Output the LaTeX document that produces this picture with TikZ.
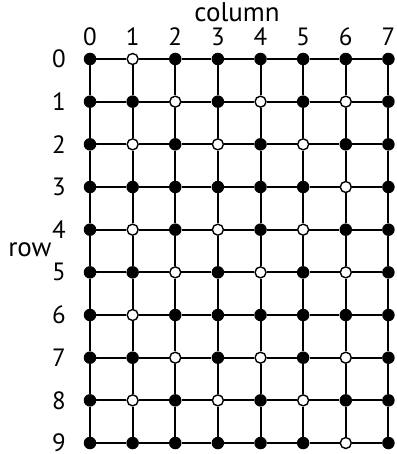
\documentclass[tikz,border=0pt]{standalone}
\usepackage{fontspec}
\setmainfont{PT Sans}
\usepackage{tikz}

\begin{document}
\begin{tikzpicture}[
  x=42.63pt, y=-42.67pt,
  dot/.style={circle, fill=black, inner sep=0pt, minimum size=12.5pt},
  hole/.style={circle, fill=white, draw=black, line width=1.4pt, inner sep=0pt, minimum size=11pt},
  wire/.style={line width=2pt, draw=black},
  num/.style={font={\fontsize{25pt}{29pt}\selectfont}, inner sep=0pt},
  word/.style={font={\fontsize{27pt}{31pt}\selectfont}, inner sep=0pt}
]
  \useasboundingbox (-90pt,59pt) rectangle (306pt,-395pt);

  % Open (white) positions, as row/column
  \foreach \r/\c in {0/1, 1/2, 1/4, 1/6, 2/1, 2/3, 2/5, 3/6, 4/1, 4/3, 4/5,
                     5/2, 5/4, 5/6, 6/1, 7/2, 7/4, 7/6, 8/1, 8/3, 8/5, 9/6} {
    \expandafter\gdef\csname hole\r-\c\endcsname{}
  }

  % Grid points
  \foreach \r in {0,...,9} {
    \foreach \c in {0,...,7} {
      \ifcsname hole\r-\c\endcsname \def\kind{hole}\else \def\kind{dot}\fi
      \node[\kind] (n\r-\c) at (\c,\r) {};
    }
  }

  % Horizontal and vertical wires
  \foreach \r in {0,...,9} {
    \foreach \c [evaluate=\c as \d using int(\c+1)] in {0,...,6} {
      \draw[wire] (n\r-\c) -- (n\r-\d);
    }
  }
  \foreach \c in {0,...,7} {
    \foreach \r [evaluate=\r as \s using int(\r+1)] in {0,...,8} {
      \draw[wire] (n\r-\c) -- (n\s-\c);
    }
  }

  % Labels
  \foreach \c in {0,...,7} {
    \node[num] (col\c) at (\c,-0.52) {\c};
  }
  \foreach \r in {0,...,9} {
    \node[num] (row\r) at (-0.73,\r) {\r};
  }
  \node[word] (coltitle) at (3.45,-1.1) {column};
  \node[word] (rowtitle) at (-1.41,4.48) {row};

\end{tikzpicture}
\end{document}
